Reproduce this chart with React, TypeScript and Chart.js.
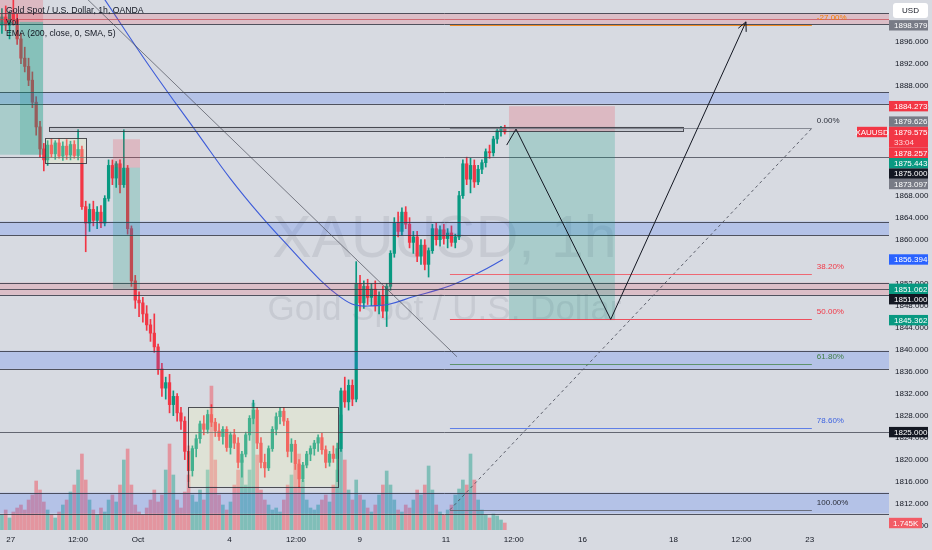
import React, { useEffect, useRef } from "react";
import { Chart, registerables } from "chart.js";

Chart.register(...registerables);

const FONT = "'Liberation Sans', Arial, sans-serif";
const BG = "#d7dae1";
const GREEN = "#089981";
const RED = "#f23645";
const DARK = "#131722";
const GRAY_TAG = "#787b86";
const BLUE_TAG = "#2962ff";

// ---- data (2-hour candles of XAUUSD) ----
const opens = [
  1899, 1900.5, 1899, 1901, 1900, 1896.5, 1893, 1891.5, 1889, 1885,
  1880.5, 1876.5, 1874.5, 1877.2, 1875.6, 1877.6, 1875.2, 1877, 1875.4, 1877.3,
  1875.3, 1876.4, 1866, 1863, 1865.5, 1863.5, 1865, 1863, 1867.5, 1873.5,
  1871.2, 1873.8, 1870, 1873, 1862, 1852.5, 1849, 1848.5, 1846.5, 1844.5,
  1843, 1840.5, 1836.5, 1833, 1834, 1830, 1831.5, 1828.5, 1827, 1821.5,
  1818, 1822, 1823.8, 1826.5, 1825.5, 1828.2, 1826.8, 1825.2, 1824.2, 1825.5,
  1822.2, 1824.5, 1823, 1819.5, 1821, 1824.5, 1827.5, 1829, 1823, 1819.5,
  1818.5, 1822, 1825.5, 1827.8, 1828.8, 1827, 1821.5, 1822.8, 1819.2, 1816.5,
  1819, 1821, 1822, 1823, 1824, 1821.8, 1819.5, 1821, 1820.2, 1822,
  1832.5, 1830.5, 1833.5, 1831, 1852, 1848.5, 1851.5, 1849.5, 1851, 1848,
  1849.8, 1847, 1851.5, 1857.5, 1863, 1861.5, 1865, 1862.8, 1859.5, 1860.5,
  1857, 1859, 1855.5, 1858, 1862, 1860, 1861.8, 1860.2, 1861.2, 1859.5,
  1860.5, 1868, 1873.8, 1871, 1873.5, 1870.5, 1872.8, 1874, 1876, 1875.8,
  1878.3, 1879.8, 1880.2,
];
const highs = [
  1902, 1902.5, 1901.5, 1904.5, 1901, 1897.5, 1895, 1893, 1890.5, 1886,
  1881.5, 1877.5, 1878, 1878.3, 1878, 1878.4, 1877.8, 1878.2, 1877.9, 1878,
  1880, 1877, 1867, 1866.5, 1867, 1866, 1866.2, 1868, 1874.5, 1874.5,
  1874.2, 1874.5, 1880, 1873.5, 1862.5, 1853.5, 1850.5, 1849.5, 1848, 1845.5,
  1846.5, 1841, 1837.5, 1835, 1835.5, 1832.5, 1832, 1829.5, 1827.8, 1822.5,
  1822.5, 1824.5, 1827, 1828, 1829, 1830, 1827.5, 1826.5, 1826, 1826,
  1825, 1825.5, 1824, 1821.5, 1825, 1828, 1830.8, 1829.5, 1824, 1821,
  1822.5, 1826, 1828.5, 1829.5, 1829.5, 1827.5, 1823.8, 1823.5, 1820, 1819.5,
  1821.5, 1822.5, 1823.5, 1824.5, 1824.8, 1822.5, 1821.5, 1822.5, 1823, 1833,
  1835, 1834.5, 1834.5, 1856, 1853.5, 1852.5, 1852.8, 1852, 1852.5, 1850.5,
  1851.5, 1852, 1858, 1864, 1865, 1865.8, 1866, 1864, 1861.5, 1861.5,
  1860, 1860, 1858.5, 1862.8, 1863, 1862.5, 1862.8, 1862, 1862.5, 1861,
  1868.8, 1874.5, 1875, 1874.8, 1874.5, 1873.5, 1874.5, 1876.5, 1877.2, 1878.8,
  1880.2, 1880.6, 1880.8,
];
const lows = [
  1897.5, 1898, 1896.5, 1899, 1895.5, 1892, 1890.5, 1888, 1884, 1879,
  1875, 1872.5, 1873.5, 1875, 1874.6, 1874.8, 1874.4, 1874.6, 1874.5, 1874.8,
  1874.5, 1865.5, 1857.8, 1861.5, 1862.5, 1862, 1862.2, 1862.5, 1867, 1870,
  1869.5, 1868.5, 1869.5, 1861, 1851.5, 1847.5, 1846, 1845, 1843.5, 1841.5,
  1839.5, 1835.5, 1831.5, 1831, 1828.5, 1828, 1827, 1825.5, 1820, 1816,
  1817, 1820.5, 1823, 1824.5, 1824.8, 1826, 1824.2, 1823.5, 1822.8, 1821.5,
  1821, 1822, 1818.5, 1816.8, 1820.5, 1823.5, 1826.5, 1822, 1818.5, 1816.8,
  1818, 1821.5, 1824.5, 1826.5, 1826.2, 1820.5, 1819.5, 1818.2, 1815, 1816,
  1818.5, 1819.8, 1820.8, 1821.5, 1821, 1818.5, 1818.8, 1819.5, 1816, 1821.5,
  1829.5, 1829, 1829.8, 1830.5, 1847, 1847.5, 1848.2, 1848, 1847, 1846.5,
  1845.8, 1844.2, 1850.8, 1856.8, 1860.5, 1860.8, 1862, 1858.5, 1857.5, 1856,
  1855.5, 1854.5, 1853.2, 1857.5, 1859, 1858.8, 1859.2, 1858.5, 1858.8, 1858.5,
  1860, 1867.5, 1870, 1868.5, 1869.5, 1870, 1872, 1873.2, 1874.8, 1875.2,
  1877.5, 1878.8, 1879.2,
];
const closes = [
  1900.5, 1899, 1901, 1900, 1896.5, 1893, 1891.5, 1889, 1885, 1880.5,
  1876.5, 1874.5, 1877.2, 1875.6, 1877.6, 1875.2, 1877, 1875.4, 1877.3, 1875.3,
  1876.4, 1866, 1863, 1865.5, 1863.5, 1865, 1863, 1867.5, 1873.5, 1871.2,
  1873.8, 1870, 1873, 1862, 1852.5, 1849, 1848.5, 1846.5, 1844.5, 1843,
  1840.5, 1836.5, 1833, 1834, 1830, 1831.5, 1828.5, 1827, 1821.5, 1818,
  1822, 1823.8, 1826.5, 1825.5, 1828.2, 1826.8, 1825.2, 1824.2, 1825.5, 1822.2,
  1824.5, 1823, 1819.5, 1821, 1824.5, 1827.5, 1829, 1823, 1819.5, 1818.5,
  1822, 1825.5, 1827.8, 1828.8, 1827, 1821.5, 1822.8, 1819.2, 1816.5, 1819,
  1821, 1822, 1823, 1824, 1821.8, 1819.5, 1821, 1820.2, 1822, 1832.5,
  1830.5, 1833.5, 1831, 1852, 1848.5, 1851.5, 1849.5, 1851, 1848, 1849.8,
  1847, 1851.5, 1857.5, 1863, 1861.5, 1865, 1862.8, 1859.5, 1860.5, 1857,
  1859, 1855.5, 1858, 1862, 1860, 1861.8, 1860.2, 1861.2, 1859.5, 1860.5,
  1868, 1873.8, 1871, 1873.5, 1870.5, 1872.8, 1874, 1876, 1875.8, 1878.3,
  1879.8, 1880.2, 1879.575,
];
const volumes = [
  3750, 5000, 3000, 4500, 5500, 6250, 5000, 7500, 8750, 12250,
  10000, 7000, 5000, 3750, 3000, 4500, 6250, 7500, 9500, 11250,
  15000, 19000, 12500, 7500, 5000, 3750, 5500, 4500, 7500, 8750,
  7000, 11250, 17500, 20250, 11250, 6250, 4500, 3750, 5500, 7500,
  10000, 7000, 8750, 15000, 21500, 13750, 7500, 5500, 9500, 13750,
  8750, 7000, 10000, 7500, 15000, 36000, 17500, 8750, 6250, 5000,
  7000, 11250, 15000, 17500, 11250, 15000, 31750, 18750, 10000, 7500,
  6250, 5000, 5500, 4500, 7500, 11250, 13750, 16250, 19000, 12500,
  7500, 5500, 5000, 6250, 7500, 8750, 7000, 11250, 15000, 28750,
  17500, 10000, 7500, 12500, 8750, 7500, 5500, 4500, 6250, 8750,
  11250, 14750, 11250, 7500, 5000, 4500, 6250, 5500, 7500, 10000,
  8750, 11250, 16000, 10000, 6250, 4500, 3750, 5000, 6250, 8750,
  10250, 12500, 11250, 19000, 12500, 7500, 5000, 3750, 3000, 4000,
  3500, 2500, 1745,
];
// trading-hour index of each 2h candle centre
const candleHours = opens.map((_, i) => 2 * i + 1);

// EMA(200) sampled points
const emaHours = [45, 55.1, 78.7, 105, 120.7, 136.5, 152.2, 168, 178.5, 186.4, 195.3, 204.7, 216.8, 231, 239.9, 252, 264];
const emaValues = [1908.8, 1903.6, 1891.4, 1878.7, 1871.2, 1864.5, 1858.5, 1852.7, 1849.6, 1848.1, 1847.96, 1848.3, 1849.6, 1851.0, 1852.1, 1854.1, 1856.394];

// axes
const xTickHours = [5.6, 40.9, 72.4, 120.5, 155.4, 188.8, 234.1, 269.7, 305.8, 353.6, 389.2, 425.1];
const xTickLabels = ["27", "12:00", "Oct", "4", "12:00", "9", "11", "12:00", "16", "18", "12:00", "23"];
const yTickValues = [1808, 1812, 1816, 1820, 1824, 1828, 1832, 1836, 1840, 1844, 1848, 1852, 1856, 1860, 1864, 1868, 1872, 1876, 1880, 1884, 1888, 1892, 1896];
const X_MAX = 466.7;
const Y_MIN = 1807.2;
const Y_MAX = 1903.58;
const VOL_MAX = 132500;

// drawings
const zoneTops = [1901.2, 1886.8, 1863.3, 1852.2, 1839.8, 1814.0];
const zoneBottoms = [1899.2, 1884.7, 1860.85, 1849.95, 1836.5, 1810.2];
const zoneKinds = ["pink", "blue", "blue", "pink", "blue", "blue"];
const zoneMids: (number | null)[] = [1900.1, null, null, 1851.0, null, null];
const hLines = [1875.0, 1825.0];

const barStartH = 25.7, barEndH = 358.5, barTop = 1880.55, barBottom = 1879.8;

const boxStartH = [23.6, 98.7];
const boxEndH = [45.1, 177.4];
const boxTops = [1878.5, 1829.6];
const boxBottoms = [1873.9, 1815.1];

const posStartH = [0, 10.5, 59.3, 267.2];
const posEndH = [22.6, 22.6, 73.5, 322.8];
const posStops = [1906, 1899.6, 1878.257, 1884.273];
const posEntries = [1899.6, 1899.6, 1873.097, 1879.626];
const posTargets = [1875.443, 1875.443, 1851.062, 1845.362];

const trendStart = [36.7, 1906.8];
const trendEnd = [239.9, 1838.7];

const pathHours = [266, 270.9, 320.6, 391.6];
const pathPrices = [1877.2, 1880.1, 1845.5, 1899.6];

const fibStartH = 236.2, fibEndH = 426.2;
const fibHigh = 1880.25, fibLow = 1810.88;
const fibLevels = [-0.27, 0, 0.382, 0.5, 0.618, 0.786, 1];
const fibLabels = ["-27.00%", "0.00%", "38.20%", "50.00%", "61.80%", "78.60%", "100.00%"];
const fibLineColors = ["#f57c00", "#787b86", "#f2545f", "#f23645", "#4f8a55", "#4a6ee8", "#5d606b"];
const fibTextColors = ["#f57c00", "#2a2e39", "#f23645", "#f23645", "#3f7d46", "#3d63e0", "#2a2e39"];

const tagValues = [1898.979, 1884.273, 1879.626, 1879.575, 1878.257, 1875.443, 1875.0, 1873.097, 1856.394, 1851.062, 1851.0, 1845.362, 1825.0];
const tagColors = [GRAY_TAG, RED, GRAY_TAG, RED, RED, GREEN, DARK, GRAY_TAG, BLUE_TAG, GREEN, DARK, GREEN, DARK];
const lastTagIndex = 3;
const countdown = "33:04";
const symbolTag = "XAUUSD";
const currency = "USD";
const legendLines = ["Gold Spot / U.S. Dollar, 1h, OANDA", "Vol", "EMA (200, close, 0, SMA, 5)"];
const watermarkLines = ["XAUUSD, 1h", "Gold Spot / U.S. Dollar"];

function fmtVol(v: number) {
  return (v / 1000).toFixed(3) + "K";
}

const tvPlugin = {
  id: "tvDrawings",
  beforeDraw(chart: any) {
    const { ctx, width, height, chartArea: a } = chart;
    ctx.save();
    ctx.fillStyle = BG;
    ctx.fillRect(0, 0, width, height);
    const cx = (a.left + a.right) / 2;
    ctx.fillStyle = "rgba(110,114,128,0.15)";
    ctx.textAlign = "center";
    ctx.textBaseline = "alphabetic";
    ctx.font = `59px ${FONT}`;
    ctx.fillText(watermarkLines[0], cx, 257);
    ctx.font = `35px ${FONT}`;
    ctx.fillText(watermarkLines[1], cx, 320);
    ctx.restore();
  },
  afterDatasetsDraw(chart: any) {
    const { ctx, chartArea: a, scales } = chart;
    const X = (h: number) => scales.x.getPixelForValue(h);
    const Y = (p: number) => scales.y.getPixelForValue(p);
    const cr = (v: number) => Math.round(v) + 0.5;
    const hline = (y: number, x1: number, x2: number) => {
      ctx.beginPath();
      ctx.moveTo(x1, cr(y));
      ctx.lineTo(x2, cr(y));
      ctx.stroke();
    };
    ctx.save();
    ctx.beginPath();
    ctx.rect(a.left, a.top, a.right - a.left, a.bottom - a.top);
    ctx.clip();

    // horizontal zones
    zoneTops.forEach((top, i) => {
      const y1 = Y(top), y2 = Y(zoneBottoms[i]);
      ctx.fillStyle = zoneKinds[i] === "blue" ? "rgba(41,98,255,0.2)" : "rgba(242,54,69,0.17)";
      ctx.fillRect(a.left, y1, a.right - a.left, y2 - y1);
      ctx.lineWidth = 1;
      ctx.strokeStyle = "rgba(55,58,70,0.85)";
      hline(y1, a.left, a.right);
      hline(y2, a.left, a.right);
      const m = zoneMids[i];
      if (m != null) {
        ctx.strokeStyle = i === 0 ? "rgba(200,70,80,0.7)" : "rgba(55,58,70,0.8)";
        hline(Y(m), a.left, a.right);
      }
    });
    ctx.strokeStyle = "rgba(70,73,85,0.8)";
    hLines.forEach((p) => hline(Y(p), a.left, a.right));

    // position tools
    posStartH.forEach((s, i) => {
      const x1 = X(s), x2 = X(posEndH[i]);
      const ys = Y(posStops[i]), ye = Y(posEntries[i]), yt = Y(posTargets[i]);
      if (ys !== ye) {
        ctx.fillStyle = "rgba(242,54,69,0.2)";
        ctx.fillRect(x1, ys, x2 - x1, ye - ys);
      }
      ctx.fillStyle = "rgba(8,153,129,0.22)";
      ctx.fillRect(x1, ye, x2 - x1, yt - ye);
    });

    // rectangles
    boxStartH.forEach((s, i) => {
      const x1 = X(s), x2 = X(boxEndH[i]);
      const y1 = Y(boxTops[i]), y2 = Y(boxBottoms[i]);
      ctx.fillStyle = "rgba(245,250,185,0.25)";
      ctx.fillRect(x1, y1, x2 - x1, y2 - y1);
      ctx.strokeStyle = "rgba(50,52,60,0.85)";
      ctx.lineWidth = 1;
      ctx.strokeRect(cr(x1), cr(y1), Math.round(x2 - x1), Math.round(y2 - y1));
    });

    // thick gray bar
    {
      const x1 = X(barStartH), x2 = X(barEndH), y1 = Y(barTop), y2 = Y(barBottom);
      ctx.fillStyle = "rgba(150,153,162,0.3)";
      ctx.fillRect(x1, y1, x2 - x1, y2 - y1);
      ctx.strokeStyle = "rgba(50,52,60,0.85)";
      ctx.strokeRect(cr(x1), cr(y1), Math.round(x2 - x1), Math.round(y2 - y1));
    }

    // trend line
    ctx.strokeStyle = "rgba(70,73,85,0.85)";
    ctx.lineWidth = 0.8;
    ctx.beginPath();
    ctx.moveTo(X(trendStart[0]), Y(trendStart[1]));
    ctx.lineTo(X(trendEnd[0]), Y(trendEnd[1]));
    ctx.stroke();

    // fibonacci
    const fx1 = X(fibStartH), fx2 = X(fibEndH);
    ctx.setLineDash([3, 3]);
    ctx.strokeStyle = "rgba(80,83,95,0.9)";
    ctx.lineWidth = 1;
    ctx.beginPath();
    ctx.moveTo(fx1, Y(fibLow));
    ctx.lineTo(fx2, Y(fibHigh));
    ctx.stroke();
    ctx.setLineDash([]);
    ctx.font = `8px ${FONT}`;
    ctx.textAlign = "left";
    ctx.textBaseline = "middle";
    fibLevels.forEach((lv, i) => {
      const p = fibHigh - (fibHigh - fibLow) * lv;
      const y = Y(p);
      ctx.strokeStyle = fibLineColors[i];
      ctx.globalAlpha = 0.85;
      hline(y, fx1, fx2);
      ctx.globalAlpha = 1;
      ctx.fillStyle = fibTextColors[i];
      ctx.fillText(fibLabels[i], fx2 + 5, y - 7);
    });

    // projected path with arrow
    ctx.strokeStyle = DARK;
    ctx.lineWidth = 1;
    ctx.beginPath();
    pathHours.forEach((h, i) => {
      const px = X(h), py = Y(pathPrices[i]);
      if (i === 0) ctx.moveTo(px, py);
      else ctx.lineTo(px, py);
    });
    ctx.stroke();
    {
      const n = pathHours.length;
      const ex = X(pathHours[n - 1]), ey = Y(pathPrices[n - 1]);
      const sx = X(pathHours[n - 2]), sy = Y(pathPrices[n - 2]);
      const ang = Math.atan2(ey - sy, ex - sx);
      const L = 10;
      ctx.beginPath();
      ctx.moveTo(ex - L * Math.cos(ang - 0.45), ey - L * Math.sin(ang - 0.45));
      ctx.lineTo(ex, ey);
      ctx.lineTo(ex - L * Math.cos(ang + 0.45), ey - L * Math.sin(ang + 0.45));
      ctx.stroke();
    }

    // legend
    ctx.fillStyle = DARK;
    ctx.textAlign = "left";
    ctx.textBaseline = "middle";
    ctx.font = `8.7px ${FONT}`;
    ctx.fillText(legendLines[0], 6, 11);
    ctx.fillText(legendLines[1], 6, 23);
    ctx.fillText(legendLines[2], 6, 34);
    ctx.restore();
  },
  afterDraw(chart: any) {
    const { ctx, chartArea: a, scales } = chart;
    const Y = (p: number) => scales.y.getPixelForValue(p);
    const tagH = 10.4;
    const x0 = a.right;
    const w = 39;
    type Item = { i: number; y: number; h: number; top: number };
    const items: Item[] = tagValues.map((v, i) => ({ i, y: Y(v), h: i === lastTagIndex ? tagH * 2 : tagH, top: 0 }));
    const anchor = items[lastTagIndex];
    anchor.top = anchor.y - tagH / 2;
    const above = items.filter((it) => it !== anchor && it.y <= anchor.y).sort((p, q) => q.y - p.y);
    let limit = anchor.top;
    above.forEach((it) => {
      let top = it.y - tagH / 2;
      if (top + it.h > limit) top = limit - it.h;
      it.top = top;
      limit = top;
    });
    const below = items.filter((it) => it !== anchor && it.y > anchor.y).sort((p, q) => p.y - q.y);
    limit = anchor.top + anchor.h;
    below.forEach((it) => {
      let top = it.y - tagH / 2;
      if (top < limit) top = limit;
      it.top = top;
      limit = top + it.h;
    });
    ctx.save();
    ctx.font = `8px ${FONT}`;
    ctx.textBaseline = "middle";
    items.forEach((it) => {
      ctx.fillStyle = tagColors[it.i];
      ctx.fillRect(x0, it.top, w, it.h);
      ctx.fillStyle = "#ffffff";
      ctx.textAlign = "left";
      ctx.fillText(tagValues[it.i].toFixed(3), x0 + 5, it.top + tagH / 2 + 0.5);
      if (it.i === lastTagIndex) {
        ctx.fillStyle = "#ffd9dc";
        ctx.fillText(countdown, x0 + 5, it.top + tagH * 1.5 + 0.5);
      }
    });
    // symbol tag
    ctx.fillStyle = RED;
    ctx.fillRect(x0 - 32, anchor.top, 30, tagH);
    ctx.fillStyle = "#ffffff";
    ctx.textAlign = "center";
    ctx.fillText(symbolTag, x0 - 17, anchor.top + tagH / 2 + 0.5);
    // volume tag
    const lastVol = volumes[volumes.length - 1];
    const vy = scales.yv.getPixelForValue(lastVol);
    ctx.fillStyle = "#f25c66";
    ctx.fillRect(x0, vy - tagH / 2, 33, tagH);
    ctx.fillStyle = "#ffffff";
    ctx.textAlign = "left";
    ctx.fillText(fmtVol(lastVol), x0 + 4, vy + 0.5);
    // currency box
    ctx.fillStyle = "#ffffff";
    ctx.beginPath();
    (ctx as any).roundRect ? (ctx as any).roundRect(x0 + 4, 3, 35, 15, 3) : ctx.rect(x0 + 4, 3, 35, 15);
    ctx.fill();
    ctx.fillStyle = DARK;
    ctx.textAlign = "center";
    ctx.fillText(currency, x0 + 21.5, 10.5);
    ctx.restore();
  },
};

export default function App() {
  const ref = useRef<HTMLCanvasElement>(null);
  useEffect(() => {
    const canvas = ref.current;
    if (!canvas) return;
    const up = closes.map((c, i) => c >= opens[i]);
    const chart = new Chart(canvas, {
      type: "bar",
      data: {
        datasets: [
          {
            type: "line",
            label: "EMA",
            data: emaHours.map((h, i) => ({ x: h, y: emaValues[i] })),
            borderColor: "#3d5bd9",
            borderWidth: 1.1,
            pointRadius: 0,
            tension: 0.4,
            yAxisID: "y",
            order: -1,
          } as any,
          {
            label: "bodies",
            data: candleHours.map((h, i) => ({ x: h, y: [opens[i], closes[i]] })),
            backgroundColor: up.map((u) => (u ? GREEN : RED)),
            barThickness: 2.6,
            minBarLength: 1,
            grouped: false,
            yAxisID: "y",
            order: 0,
          } as any,
          {
            label: "wicks",
            data: candleHours.map((h, i) => ({ x: h, y: [lows[i], highs[i]] })),
            backgroundColor: up.map((u) => (u ? GREEN : RED)),
            barThickness: 1,
            grouped: false,
            yAxisID: "y",
            order: 1,
          } as any,
          {
            label: "volume",
            data: candleHours.map((h, i) => ({ x: h, y: volumes[i] })),
            backgroundColor: up.map((u) => (u ? "rgba(8,153,129,0.42)" : "rgba(242,54,69,0.42)")),
            barThickness: 3,
            grouped: false,
            yAxisID: "yv",
            order: 3,
          } as any,
        ],
      },
      options: {
        animation: false,
        responsive: false,
        devicePixelRatio: 1,
        events: [],
        layout: { padding: 0, autoPadding: false } as any,
        plugins: { legend: { display: false }, tooltip: { enabled: false }, title: { display: false } },
        scales: {
          x: {
            type: "linear",
            min: 0,
            max: X_MAX,
            offset: false,
            grid: { display: false, drawTicks: false },
            border: { display: false },
            ticks: {
              autoSkip: false,
              maxRotation: 0,
              padding: 5,
              color: DARK,
              font: { family: FONT, size: 8 },
              callback: (_v: any, idx: number) => xTickLabels[idx],
            },
            afterBuildTicks: (s: any) => {
              s.ticks = xTickHours.map((v) => ({ value: v }));
            },
            afterFit: (s: any) => {
              s.height = 20;
              s.paddingLeft = 0;
              s.paddingRight = 0;
            },
          },
          y: {
            type: "linear",
            position: "right",
            min: Y_MIN,
            max: Y_MAX,
            grid: { display: false, drawTicks: false },
            border: { display: false },
            ticks: {
              padding: 6,
              color: DARK,
              font: { family: FONT, size: 8 },
              callback: (v: any) => Number(v).toFixed(3),
            },
            afterBuildTicks: (s: any) => {
              s.ticks = yTickValues.map((v) => ({ value: v }));
            },
            afterFit: (s: any) => {
              s.width = 43;
              s.paddingTop = 0;
              s.paddingBottom = 0;
            },
          },
          yv: {
            type: "linear",
            display: false,
            min: 0,
            max: VOL_MAX,
          },
        },
      } as any,
      plugins: [tvPlugin],
    });
    return () => chart.destroy();
  }, []);
  return (
    <div style={{ position: "fixed", left: 0, top: 0, width: 932, height: 550, background: BG }}>
      <canvas ref={ref} width={932} height={550} style={{ display: "block", width: 932, height: 550 }} />
    </div>
  );
}
